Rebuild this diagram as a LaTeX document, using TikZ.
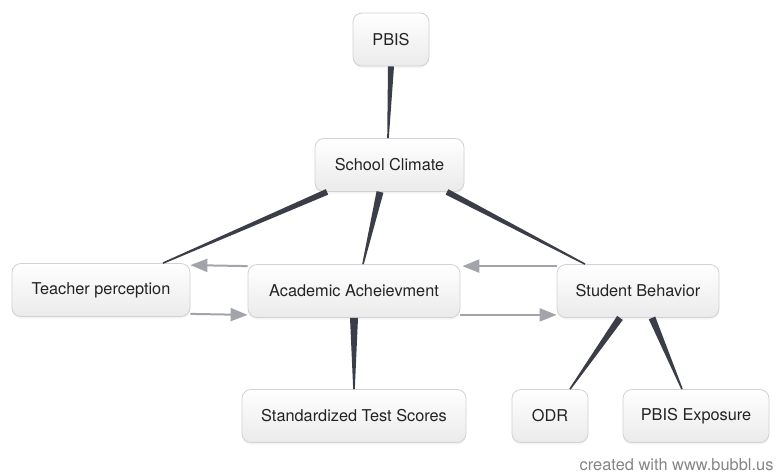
\documentclass[tikz,border=0pt]{standalone}
\usepackage{fontspec}
\setmainfont{TeX Gyre Heros}
\usepackage{tikz}
\usetikzlibrary{calc,shadows,arrows.meta}
\definecolor{boxline}{HTML}{D2D2D4}
\definecolor{boxtext}{HTML}{232325}
\definecolor{spokecol}{HTML}{3B3E48}
\definecolor{flowcol}{HTML}{A2A3AB}
\definecolor{creditcol}{HTML}{858585}
\newcommand{\taper}[3][3.5pt]{\fill[spoke] ($(#2)!#1!90:(#3)$) -- ($(#3)!0.8pt!-90:(#2)$) -- ($(#3)!0.8pt!90:(#2)$) -- ($(#2)!#1!-90:(#3)$) -- cycle;}

\begin{document}
\begin{tikzpicture}[x=1pt,y=1pt]
\tikzstyle{box}=[draw=boxline,line width=0.8pt,rounded corners=9pt,top color=white,bottom color=black!8,
  minimum height=53pt,inner sep=0pt,text=boxtext,font=\fontsize{16.3}{19}\selectfont,
  drop shadow={opacity=0.09,shadow xshift=0pt,shadow yshift=-2pt}]
\tikzstyle{spoke}=[fill=spokecol]
\tikzstyle{flow}=[draw=flowcol,line width=2pt,-{Triangle[length=17pt,width=13pt]}]
\useasboundingbox (0,0) rectangle (779,-474);
\node[box,minimum width=76pt] (pbis) at (391,-39.5) {PBIS};
\node[box,minimum width=149pt] (climate) at (389.5,-165) {School Climate};
\node[box,minimum width=178pt] (teacher) at (101,-290) {Teacher perception};
\node[box,minimum width=212pt] (academic) at (354,-291) {Academic Acheievment};
\node[box,minimum width=162pt] (student) at (638,-291) {Student Behavior};
\node[box,minimum width=224pt] (scores) at (354,-416) {Standardized Test Scores};
\node[box,minimum width=76pt] (odr) at (550,-416) {ODR};
\node[box,minimum width=146pt] (exposure) at (696,-416) {PBIS Exposure};
\node[anchor=base east,text=creditcol,font=\fontsize{16.4}{19}\selectfont] (credit) at (777,-470) {created with www.bubbl.us};
\coordinate (pbis-c) at (pbis.south);
\coordinate (c-pbis) at ([xshift=-1.5pt]climate.north);
\coordinate (c-t) at ([xshift=-62.5pt]climate.south);
\coordinate (t-c) at ([xshift=62pt]teacher.north);
\coordinate (c-a) at ([xshift=-9.5pt]climate.south);
\coordinate (a-c) at ([xshift=9pt]academic.north);
\coordinate (c-s) at ([xshift=57.5pt]climate.south);
\coordinate (s-c) at ([xshift=-53pt]student.north);
\coordinate (a-sc) at (academic.south);
\coordinate (sc-a) at (scores.north);
\coordinate (s-o) at ([xshift=-18pt]student.south);
\coordinate (o-s) at ([xshift=20pt]odr.north);
\coordinate (s-e) at ([xshift=14pt]student.south);
\coordinate (e-s) at ([xshift=-14pt]exposure.north);
\taper[3pt]{pbis-c}{c-pbis}
\taper[3pt]{c-t}{t-c}
\taper{c-a}{a-c}
\taper[3pt]{c-s}{s-c}
\taper[4pt]{a-sc}{sc-a}
\taper{s-o}{o-s}
\taper{s-e}{e-s}
\draw[flow] ([yshift=-2pt]academic.north west) -- ([yshift=-2pt]teacher.north east);
\draw[flow] ([yshift=3pt]teacher.south east) -- ([yshift=3pt]academic.south west);
\draw[flow] ([yshift=-2pt]student.north west) -- ([xshift=2pt,yshift=-2pt]academic.north east);
\draw[flow] ([yshift=3pt]academic.south east) -- ([yshift=3pt]student.south west);
\end{tikzpicture}
\end{document}
